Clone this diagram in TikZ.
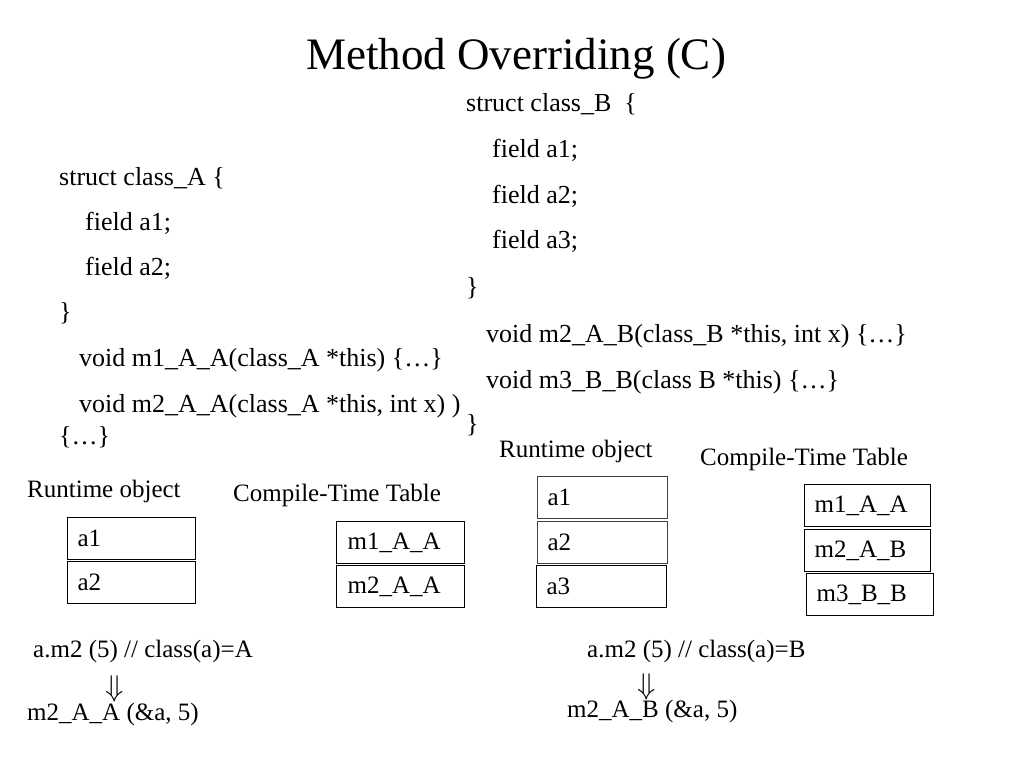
\documentclass[tikz,border=0pt]{standalone}
\usepackage{graphicx}
\usepackage{fontspec}
\setmainfont{Liberation Serif}
\begin{document}
\begin{tikzpicture}[x=1pt,y=-1pt,
  code/.style={anchor=base west, inner sep=0pt, font=\fontsize{26}{31}\selectfont},
  lbl/.style={anchor=base west, inner sep=0pt, font=\fontsize{25}{30}\selectfont},
  cell/.style={draw=black, line width=1.2pt, anchor=north west, minimum height=42pt,
    inner xsep=10pt, inner ysep=0pt, align=left, font=\fontsize{25}{30}\selectfont},
  graycell/.style={cell, draw=black!75},
  arr/.style={anchor=south, inner sep=0pt}]
\useasboundingbox (0,0) rectangle (1024,768);
% title
\node[anchor=base, inner sep=0pt, font=\fontsize{45}{54}\selectfont] (title) at (516,70) {Method Overriding (C)};
% class A code
\node[code] (a0) at (59,185) {struct class\_A \{};
\node[code] (a1) at (85,230) {field a1;};
\node[code] (a2) at (85,275) {field a2;};
\node[code] (a3) at (59,320) {\}};
\node[code] (a4) at (79,366) {void m1\_A\_A(class\_A *this) \{…\}};
\node[code] (a5) at (79,412) {void m2\_A\_A(class\_A *this, int x) )};
\node[code] (a6) at (59,444) {\{…\}};
% class B code
\node[code] (b0) at (466,111) {struct class\_B~~\{};
\node[code] (b1) at (492,157) {field a1;};
\node[code] (b2) at (492,203) {field a2;};
\node[code] (b3) at (492,248) {field a3;};
\node[code] (b4) at (466,295) {\}};
\node[code] (b5) at (486,342) {void m2\_A\_B(class\_B *this, int x) \{…\}};
\node[code] (b6) at (486,388) {void m3\_B\_B(class B *this) \{…\}};
\node[code] (b7) at (466,432) {\}};
% left labels
\node[lbl] (rtA) at (27,497) {Runtime object};
\node[lbl] (ctA) at (233,501) {Compile-Time Table};
% right labels
\node[lbl] (rtB) at (499,457) {Runtime object};
\node[lbl] (ctB) at (700,465) {Compile-Time Table};
% left runtime object
\node[cell, text width=108pt] (oA1) at (67,517) {a1};
\node[cell, text width=108pt] (oA2) at (67,561) {a2};
% left table
\node[cell, text width=106pt, inner xsep=11pt] (tA1) at (336,521) {m1\_A\_A};
\node[cell, text width=106pt, inner xsep=11pt] (tA2) at (336,565) {m2\_A\_A};
% right runtime object
\node[graycell, text width=110pt] (oB1) at (537,476) {a1};
\node[graycell, text width=110pt] (oB2) at (537,521) {a2};
\node[cell, text width=110pt] (oB3) at (536,565) {a3};
% right table
\node[cell, text width=106pt] (tB1) at (804,484) {m1\_A\_A};
\node[cell, text width=106pt] (tB2) at (804,529) {m2\_A\_B};
\node[cell, text width=107pt] (tB3) at (806,573) {m3\_B\_B};
% calls
\node[lbl] (cA) at (33,657) {a.m2 (5) // class(a)=A};
\node[arr] (dA) at (115,703) {\scalebox{3}{$\Downarrow$}};
\node[lbl] (rA) at (27,720) {m2\_A\_A (\&a, 5)};
\node[lbl] (cB) at (587,657) {a.m2 (5) // class(a)=B};
\node[arr] (dB) at (647,701) {\scalebox{3}{$\Downarrow$}};
\node[lbl] (rB) at (567,717) {m2\_A\_B (\&a, 5)};
\end{tikzpicture}
\end{document}
